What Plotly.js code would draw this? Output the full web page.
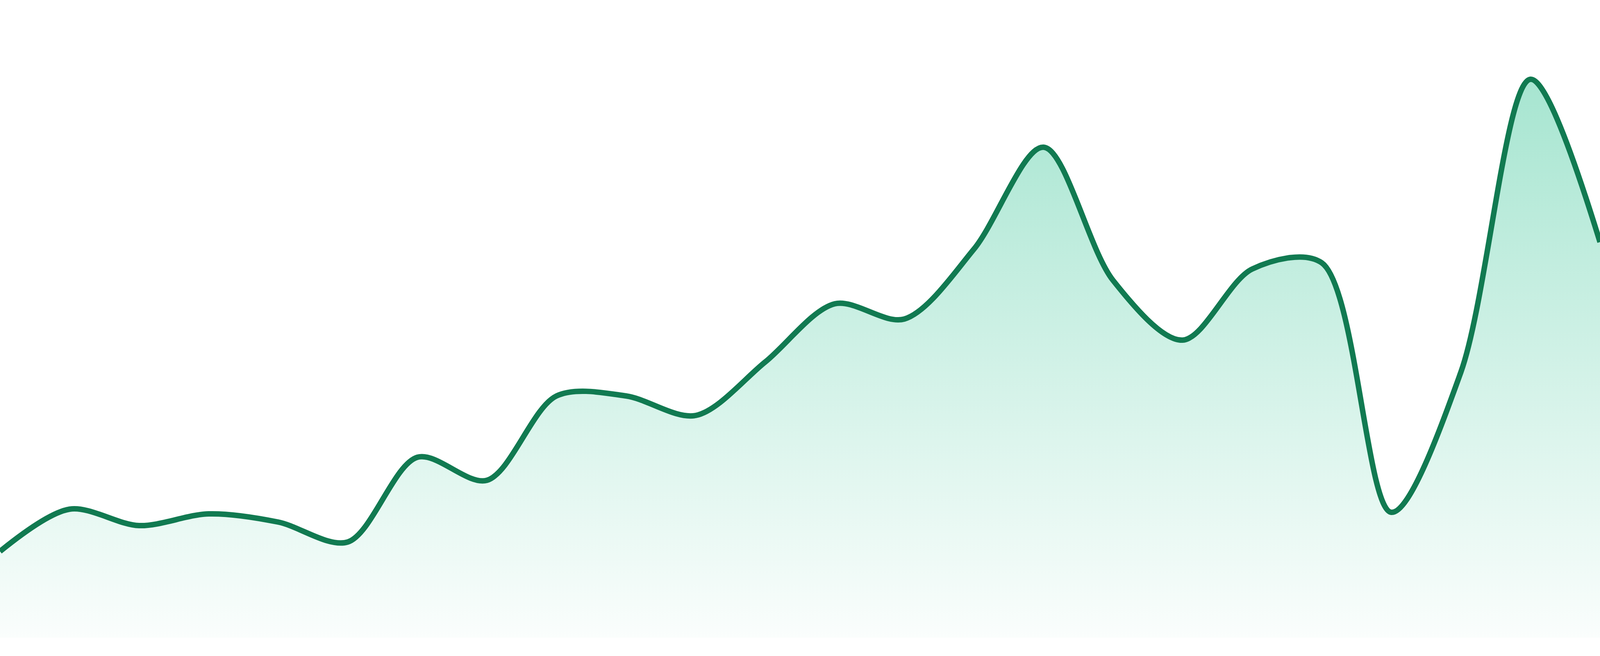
<!DOCTYPE html>
<html>
<head>
<meta charset="utf-8">
<script src="https://cdn.plot.ly/plotly-3.0.1.min.js"></script>
<style>
  html, body {
    margin: 0;
    padding: 0;
    overflow: hidden;
    background: #ffffff;
  }
  #chart {
    width: 100vw;
    height: 100vh;
  }
</style>
</head>
<body>
<div id="chart"></div>
<script>
// one point per step
var steps = [0,1,2,3,4,5,6,7,8,9,10,11,12,13,14,15,16,17,18,19,20,21,22,23];
var values = [22.1, 32.9, 28.7, 31.7, 29.6, 24.5, 46.2, 40.3, 61.9, 61.9, 56.9, 70.6,
              85.5, 81.6, 99.5, 125.6, 91.5, 76.2, 94.4, 96.0, 32.1, 68.0, 143.0, 101.3];

var lineColor = '#117a51';

function drawChart() {
  // the window may not be 4800 wide, so the chart just fills whatever it gets
  var w = window.innerWidth;
  var h = window.innerHeight;
  var ky = h / 1680;

  var trace = {
    x: steps,
    y: values,
    type: 'scatter',
    mode: 'lines',
    line: {color: lineColor, width: 14 * ky, shape: 'spline', smoothing: 0.9},
    fill: 'tozeroy',
    fillgradient: {
      type: 'vertical',
      start: 0,
      stop: Math.max.apply(null, values),
      colorscale: [[0, 'rgba(16,185,129,0.02)'], [1, 'rgba(16,185,129,0.37)']]
    },
    hoverinfo: 'none'
  };

  var layout = {
    width: w,
    height: h,
    margin: {l: 0, r: 0, t: 0, b: Math.round(47 * ky), pad: 0},
    paper_bgcolor: '#ffffff',
    plot_bgcolor: '#ffffff',
    showlegend: false,
    xaxis: {range: [0, steps.length - 1], visible: false, showgrid: false, zeroline: false, fixedrange: true},
    yaxis: {range: [0, 163.3], visible: false, showgrid: false, zeroline: false, fixedrange: true}
  };

  Plotly.newPlot('chart', [trace], layout, {staticPlot: true, displayModeBar: false});
}

drawChart();
</script>
</body>
</html>
